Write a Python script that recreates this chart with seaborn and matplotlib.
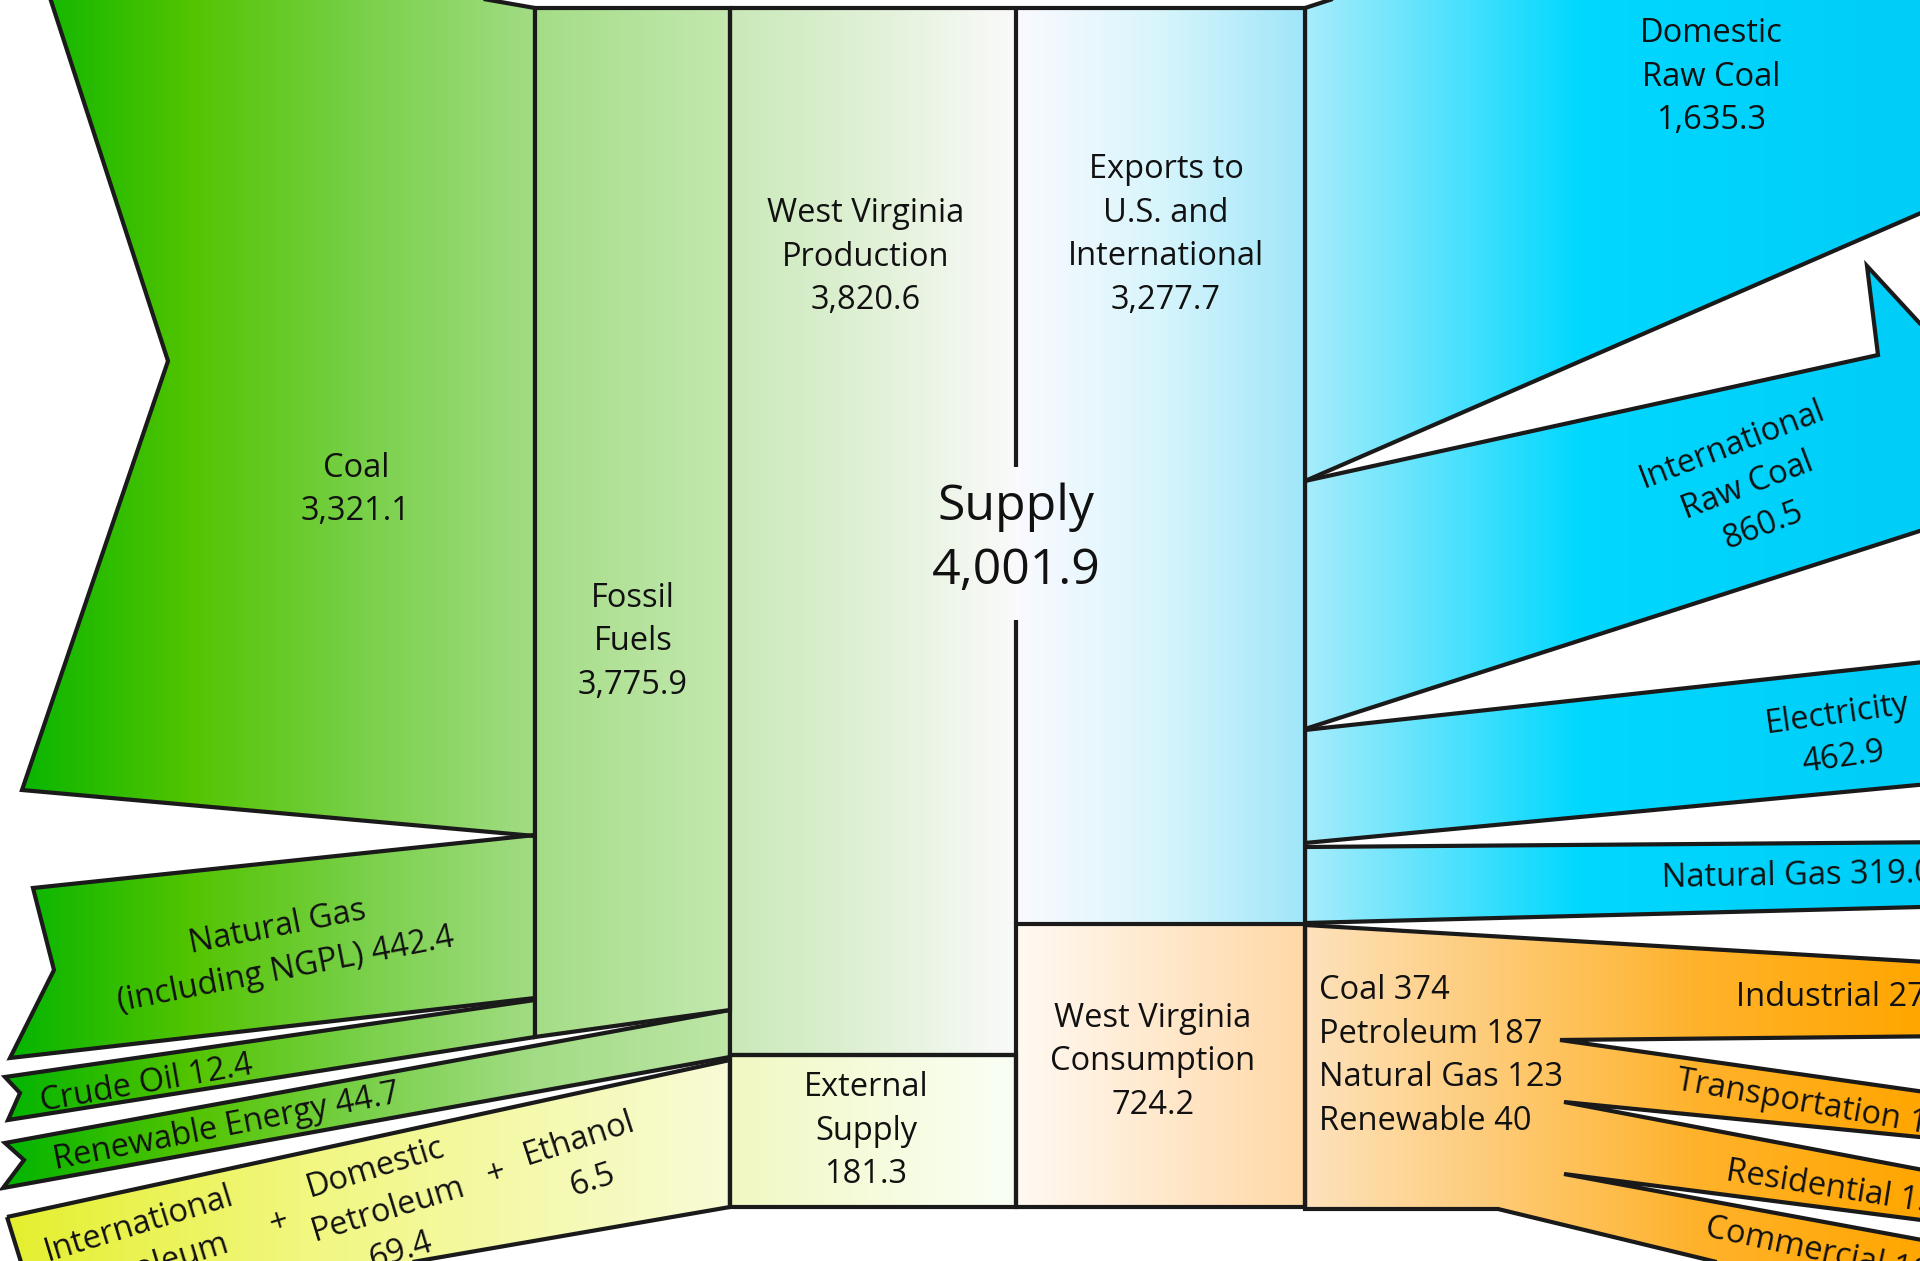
import numpy as np
import matplotlib
matplotlib.use('Agg')
import matplotlib.pyplot as plt
from matplotlib.colors import to_rgb
from matplotlib.patches import Polygon
import seaborn as sns

# Estilo
sns.set_theme(style='white')
plt.rcParams['font.family'] = ['Open Sans', 'DejaVu Sans']

# ---- Dados (TBtu) ----
source_labels = ['Coal', 'Natural Gas\n(including NGPL)', 'Crude Oil', 'Renewable Energy']
source_values = [3321.1, 442.4, 12.4, 44.7]
fossil_label, fossil_value = 'Fossil\nFuels', 3775.9
production_label, production_value = 'West Virginia\nProduction', 3820.6
external_parts = ['International\nPetroleum', 'Domestic\nPetroleum', 'Ethanol']
external_part_values = [105.4, 69.4, 6.5]
external_label, external_value = 'External\nSupply', 181.3
supply_label, supply_value = 'Supply', 4001.9
exports_label, exports_value = 'Exports to\nU.S. and\nInternational', 3277.7
export_labels = ['Domestic\nRaw Coal', 'International\nRaw Coal', 'Electricity', 'Natural Gas']
export_values = [1635.3, 860.5, 462.9, 319.0]
consumption_label, consumption_value = 'West Virginia\nConsumption', 724.2
fuel_labels = ['Coal', 'Petroleum', 'Natural Gas', 'Renewable']
fuel_values = [374, 187, 123, 40]
sector_labels = ['Industrial', 'Transportation', 'Residential', 'Commercial']
sector_values = [275, 190, 150, 109]


def fmt(v):
    return f'{v:,.1f}'


# ---- Layout (pixels of the 1920x1261 canvas) ----
W, H = 1920, 1261
X1, X2, X3, X4 = 535, 730, 1016, 1305
TOP, BOT = 8, 1207
LW = 3.0
EDGE = '#1a1a1a'

green = [(0, '#00b400'), (190, '#52c400'), (360, '#78d048'), (535, '#a2dc84'), (730, '#bde6a7')]
fossil_c = [(X1, '#a4dd86'), (X2, '#c4e8b0')]
prod_c = [(X2, '#c9e9b9'), (880, '#e2f1d8'), (X3, '#fafafa')]
ext_c = [(X2, '#f1f8c2'), (X3, '#fafff6')]
petro_c = [(0, '#e4ef2c'), (300, '#f1f77e'), (X2, '#f8fbd6')]
exp_c = [(X3, '#fafaff'), (1160, '#d8f5fc'), (X4, '#9fe6f9')]
blue_c = [(X4, '#a8ecfb'), (1580, '#00d8ff'), (1920, '#00cdf8')]
cons_c = [(X3, '#fff9f3'), (X4, '#ffd8a6')]
orange_c = [(X4, '#fde2bd'), (1700, '#ffb22a'), (1920, '#ffa600')]

fig = plt.figure(figsize=(W / 100, H / 100), dpi=100)
ax = fig.add_axes([0, 0, 1, 1])


def shape(verts, stops, edge=True, z=1):
    verts = np.asarray(verts, float)
    poly = Polygon(verts, closed=True, facecolor='none',
                   edgecolor=EDGE if edge else 'none', lw=LW,
                   joinstyle='miter', zorder=z + 0.5)
    ax.add_patch(poly)
    xs = np.linspace(verts[:, 0].min(), verts[:, 0].max(), 500)
    px = [s[0] for s in stops]
    rgb = np.array([to_rgb(s[1]) for s in stops])
    img = np.stack([np.interp(xs, px, rgb[:, k]) for k in range(3)], axis=-1)[None]
    im = ax.imshow(img, extent=(xs[0], xs[-1], verts[:, 1].max(), verts[:, 1].min()),
                   aspect='auto', interpolation='bilinear', zorder=z)
    im.set_clip_path(poly)


# fluxos de entrada (esquerda)
shape([(41, -30), (318, -30), (X1, TOP), (X1, 836), (22, 790), (168, 361)], green)
shape([(33, 888), (X1, 835), (X1, 998), (10, 1058), (54, 970)], green)
shape([(5, 1077), (X1, 1000), (X1, 1037), (8, 1120), (20, 1093)], green)
shape([(5, 1143), (X2, 1010), (X2, 1057), (3, 1188), (24, 1160)], green)
shape([(7, 1217), (X2, 1060), (X2, BOT), (20, 1330), (25, 1275)], petro_c)

# colunas centrais
shape([(X1, TOP), (X2, TOP), (X2, 1010), (X1, 1037)], fossil_c, z=2)
shape([(X2, TOP), (X3, TOP), (X3, 1055), (X2, 1055)], prod_c, edge=False, z=2)
shape([(X2, 1055), (X3, 1055), (X3, BOT), (X2, BOT)], ext_c, z=2)
shape([(X3, TOP), (X4, TOP), (X4, 924), (X3, 924)], exp_c, edge=False, z=2)
shape([(X3, 924), (X4, 924), (X4, BOT), (X3, BOT)], cons_c, z=2)

# fluxos de saída (direita)
shape([(X4, TOP), (1422, -30), (1960, -30), (1960, 196), (X4, 481)], blue_c)
shape([(X4, 481), (1878, 355), (1867, 266), (1960, 367), (1960, 518), (X4, 729)], blue_c)
shape([(X4, 730), (1960, 658), (1960, 781), (X4, 843)], blue_c)
shape([(X4, 847), (1960, 842), (1960, 906), (X4, 923)], blue_c)
shape([(X4, 925), (1960, 964), (1960, 1036), (1560, 1040), (1960, 1097), (1960, 1141),
       (1564, 1102), (1960, 1177), (1960, 1225), (1564, 1174), (1960, 1247),
       (1960, 1321), (1498, 1209), (X4, 1209)], orange_c)

# contornos das colunas (linha central interrompida pelo rótulo Supply)
for xs_, ys_ in [([X2, X4], [TOP, TOP]), ([X3, X3], [TOP, 467]), ([X3, X3], [620, 924]),
                 ([X2, X2], [TOP, BOT]), ([X4, X4], [TOP, BOT]), ([X2, X3], [1055, 1055])]:
    ax.plot(xs_, ys_, color=EDGE, lw=LW, solid_capstyle='butt', zorder=5)

TXT = dict(color='#111111', ha='center', va='center', linespacing=1.42, zorder=10,
           rotation_mode='anchor')
FS = 23.5


def label(x, y, s, size=FS, rot=0, **kw):
    opts = dict(TXT)
    opts.update(kw)
    ax.text(x, y, s, fontsize=size, rotation=rot, **opts)


label(356, 490, f'{source_labels[0]}\n{fmt(source_values[0])}')
label(282, 949, f'{source_labels[1]} {fmt(source_values[1])}', rot=11)
label(147, 1084, f'{source_labels[2]} {fmt(source_values[2])}', rot=10)
label(227, 1127, f'{source_labels[3]} {fmt(source_values[3])}', rot=11)
label(633, 642, f'{fossil_label}\n{fmt(fossil_value)}')
label(866, 257, f'{production_label}\n{fmt(production_value)}')
label(866, 1131, f'{external_label}\n{fmt(external_value)}')
label(1016, 539, f'{supply_label}\n{fmt(supply_value)}', size=36, linespacing=1.38)
label(1166, 235, f'{exports_label}\n{fmt(exports_value)}')
label(1153, 1062, f'{consumption_label}\n{fmt(consumption_value)}')
label(1319, 1056, '\n'.join(f'{l} {v:,}' for l, v in zip(fuel_labels, fuel_values)),
      ha='left', rotation_mode='default')

# partes do suprimento externo
label(152, 1266, f'{external_parts[0]}\n{fmt(external_part_values[0])}', rot=17)
label(279, 1223, '+', rot=17)
label(388, 1210, f'{external_parts[1]}\n{fmt(external_part_values[1])}', rot=17)
label(496, 1174, '+', rot=17)
label(586, 1160, f'{external_parts[2]}\n{fmt(external_part_values[2])}', rot=18)

# exportações
label(1711, 77, f'{export_labels[0]}\n{fmt(export_values[0])}')
label(1748, 486, f'{export_labels[1]}\n{fmt(export_values[1])}', rot=21)
label(1840, 736, f'{export_labels[2]}\n{fmt(export_values[2])}', rot=8)
label(1662, 879, f'{export_labels[3]} {fmt(export_values[3])}', rot=1, ha='left')

# setores de consumo
label(1736, 998, f'{sector_labels[0]} {sector_values[0]}', ha='left')
label(1677, 1081, f'{sector_labels[1]} {sector_values[1]}', rot=-10, ha='left')
label(1726, 1172, f'{sector_labels[2]} {sector_values[2]}', rot=-9, ha='left')
label(1706, 1228, f'{sector_labels[3]} {sector_values[3]}', rot=-12, ha='left')

ax.set_xlim(0, W)
ax.set_ylim(H, 0)
ax.axis('off')
fig.savefig('out.png', dpi=100, facecolor='white')
